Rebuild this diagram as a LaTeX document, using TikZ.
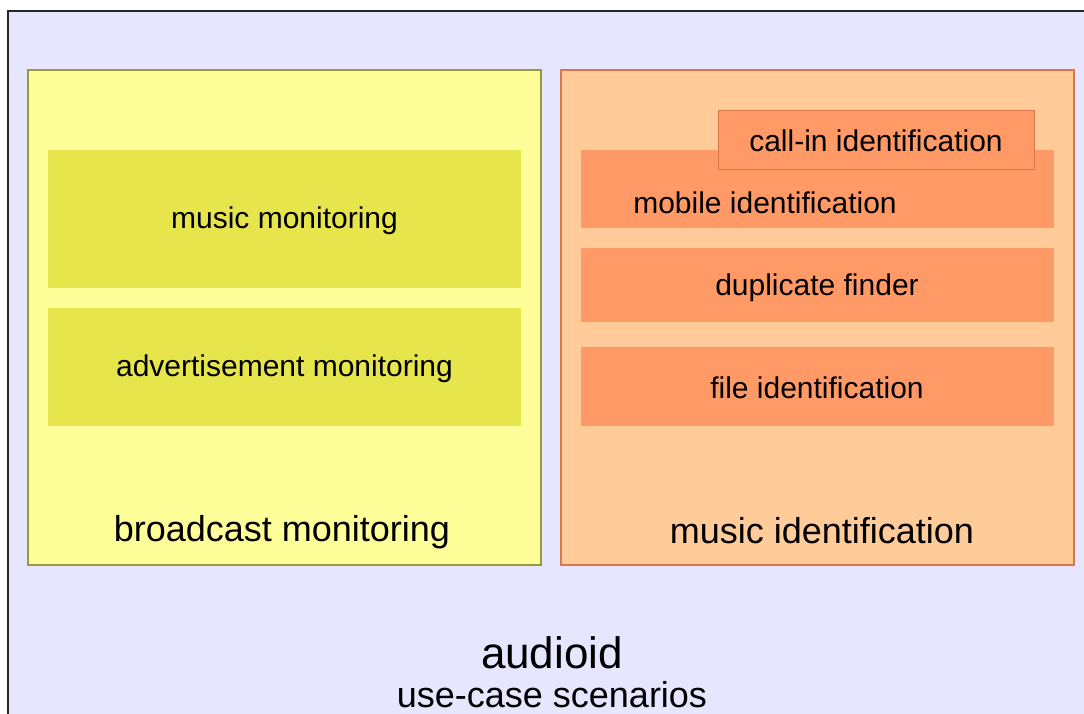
\documentclass[tikz,border=0pt]{standalone}
\usepackage{fontspec}
\setmainfont{Liberation Sans}
\usepackage{tikz}

\definecolor{frameblue}{HTML}{E6E6FF}
\definecolor{paleyellow}{HTML}{FFFF99}
\definecolor{olive}{HTML}{9A9A3C}
\definecolor{darkyellow}{HTML}{E6E64C}
\definecolor{paleorange}{HTML}{FFCC99}
\definecolor{midorange}{HTML}{FF9966}
\definecolor{rustorange}{HTML}{D9764A}

\tikzset{
  usecase/.style={font=\fontsize{30}{36}\selectfont},
  group/.style={font=\fontsize{36}{42}\selectfont}
}

\begin{document}
\begin{tikzpicture}[x=1pt,y=-1pt]
    \useasboundingbox (0,0) rectangle (1084,713);
    \clip (0,0) rectangle (1084,713);
    % outer frame
    \filldraw[fill=frameblue,draw=black!85,line width=2pt] (8,11) rectangle (1100,730);
    % broadcast monitoring
    \filldraw[fill=paleyellow,draw=olive,line width=1.5pt] (28,70) rectangle (541,565);
    \fill[darkyellow] (48,150) rectangle (521,288);
    \fill[darkyellow] (48,308) rectangle (521,426);
    \node[usecase] (musmon) at (284.5,221) {music monitoring};
    \node[usecase] (admon) at (284.5,369) {advertisement monitoring};
    \node[group] (broad) at (282,532) {broadcast monitoring};
    % music identification
    \filldraw[fill=paleorange,draw=rustorange,line width=1.5pt] (561,70) rectangle (1074,565);
    \fill[midorange] (581,150) rectangle (1054,228);
    \filldraw[fill=midorange,draw=rustorange,line width=1pt] (718,110) rectangle (1034,169);
    \fill[midorange] (581,248) rectangle (1054,322);
    \fill[midorange] (581,347) rectangle (1054,426);
    \node[usecase] (callin) at (876,141) {call-in identification};
    \node[usecase] (mobile) at (765,203) {mobile identification};
    \node[usecase] (dup) at (817,288) {duplicate finder};
    \node[usecase] (fileid) at (817,388) {file identification};
    \node[group] (musid) at (822,531) {music identification};
    % title
    \node[font=\fontsize{44}{50}\selectfont] (title) at (552,653) {audioid};
    \node[group] (sub) at (552,695) {use-case scenarios};
\end{tikzpicture}
\end{document}
